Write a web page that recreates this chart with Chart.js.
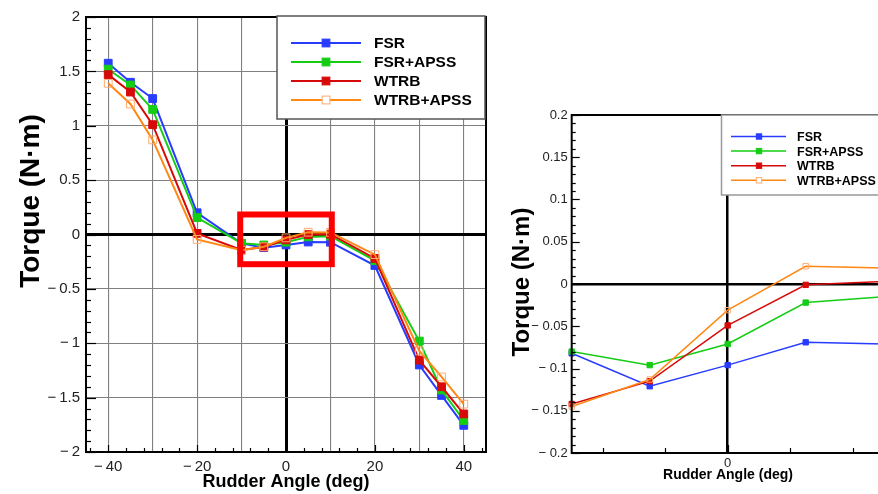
<!DOCTYPE html>
<html>
<head>
<meta charset="utf-8">
<script src="https://cdn.jsdelivr.net/npm/chart.js@4.4.1/dist/chart.umd.min.js"></script>
<style>
html, body { margin: 0; padding: 0; background: #fff; overflow: hidden; width: 878px; height: 494px; }
#left { position: absolute; left: 0; top: 0; }
#right { position: absolute; left: 500px; top: 0; }
</style>
</head>
<body>
<canvas id="left" width="500" height="494"></canvas>
<canvas id="right" width="392" height="494"></canvas>
<script>
// rudder angle (deg) and torque (N·m)
const angles = [-40, -35, -30, -20, -10, -5, 0, 5, 10, 20, 30, 35, 40];
const fsr = [1.575, 1.40, 1.25, 0.20, -0.082, -0.121, -0.096, -0.069, -0.071, -0.285, -1.20, -1.48, -1.755];
const fsrApss = [1.52, 1.375, 1.15, 0.155, -0.080, -0.096, -0.071, -0.022, -0.015, -0.24, -0.98, -1.43, -1.71];
const wtrb = [1.47, 1.31, 1.01, 0.01, -0.142, -0.115, -0.049, -0.001, 0.003, -0.22, -1.155, -1.40, -1.65];
const wtrbApss = [1.39, 1.20, 0.87, -0.045, -0.145, -0.113, -0.031, 0.021, 0.019, -0.185, -1.07, -1.31, -1.56];
const seriesNames = ['FSR', 'FSR+APSS', 'WTRB', 'WTRB+APSS'];

const leftXTicks = [-40, -30, -20, -10, 0, 10, 20, 30, 40];
const leftXLabels = [-40, -20, 0, 20, 40];
const leftYTicks = [-2, -1.5, -1, -0.5, 0, 0.5, 1, 1.5, 2];
const rightXTicks = [0];
const rightYTicks = [-0.2, -0.15, -0.1, -0.05, 0, 0.05, 0.1, 0.15, 0.2];
// region of the left plot that is enlarged on the right: x0, x1, y0, y1
const zoomWindow = [-10.3, 10.3, -0.273, 0.184];

const FONT = '"Liberation Sans", Arial, Helvetica, sans-serif';
const colors = ['rgb(40,60,255)', 'rgb(20,205,20)', 'rgb(215,10,10)', 'rgb(255,135,20)'];
const hollowEdge = 'rgb(255,170,110)';

function fmt(v, gap) {
    if (v === 0) return '0';
    return v < 0 ? '\u2212' + gap + Math.abs(v) : String(v);
}

function makeSets(lineW, r, keep) {
    return [fsr, fsrApss, wtrb, wtrbApss].map((vals, i) => ({
        label: seriesNames[i],
        data: angles.map((x, j) => ({ x: x, y: vals[j] })).filter(p => keep(p.x)),
        borderColor: colors[i],
        backgroundColor: colors[i],
        pointBackgroundColor: i === 3 ? 'rgba(0,0,0,0)' : colors[i],
        pointBorderColor: i === 3 ? hollowEdge : colors[i],
        borderWidth: lineW,
        pointRadius: r,
        pointBorderWidth: 1,
        pointStyle: 'rect',
        order: 3 - i,
        tension: 0
    }));
}

// frame, inward tick marks, legend box, titles, highlight box
const decor = {
    id: 'decor',
    afterDatasetsDraw(chart, args, o) {
        const ctx = chart.ctx, a = chart.chartArea;
        const xs = chart.scales.x, ys = chart.scales.y;
        ctx.save();

        if (o.box) {
            const b = o.box;
            const x0 = xs.getPixelForValue(b[0]), x1 = xs.getPixelForValue(b[1]);
            const y0 = ys.getPixelForValue(b[2]), y1 = ys.getPixelForValue(b[3]);
            ctx.strokeStyle = 'rgb(255,0,0)';
            ctx.lineWidth = 6;
            ctx.strokeRect(x0, y1, x1 - x0, y0 - y1);
        }

        // inward ticks
        ctx.strokeStyle = '#000';
        ctx.lineWidth = 1.2;
        const t = o.ticks;
        const isMajor = (v, m) => Math.abs(v / m - Math.round(v / m)) < 1e-6;
        for (let k = Math.ceil(xs.min / t.xMinor - 1e-9); k * t.xMinor <= xs.max + 1e-9; k++) {
            const v = k * t.xMinor, px = Math.round(xs.getPixelForValue(v)) + 0.5;
            const len = isMajor(v, t.xMajor) ? t.xMajorLen : t.xMinorLen;
            ctx.beginPath(); ctx.moveTo(px, a.bottom); ctx.lineTo(px, a.bottom - len); ctx.stroke();
        }
        for (let k = Math.ceil(ys.min / t.yMinor - 1e-9); k * t.yMinor <= ys.max + 1e-9; k++) {
            const v = k * t.yMinor, py = Math.round(ys.getPixelForValue(v)) + 0.5;
            const len = isMajor(v, t.yMajor) ? t.yMajorLen : t.yMinorLen;
            ctx.beginPath(); ctx.moveTo(a.left, py); ctx.lineTo(a.left + len, py); ctx.stroke();
        }

        // frame
        ctx.lineWidth = 2;
        ctx.strokeRect(a.left, a.top, a.right - a.left, a.bottom - a.top);

        // legend
        const L = o.legend;
        ctx.fillStyle = '#fff';
        ctx.fillRect(L.left, L.top, L.w, L.h);
        ctx.strokeStyle = L.border;
        ctx.lineWidth = 1.5;
        ctx.strokeRect(L.left, L.top, L.w, L.h);
        ctx.font = 'bold ' + L.font + 'px ' + FONT;
        ctx.textBaseline = 'middle';
        ctx.textAlign = 'left';
        chart.data.datasets.forEach((d, i) => {
            const y = L.y0 + i * L.dy;
            ctx.strokeStyle = d.borderColor;
            ctx.lineWidth = d.borderWidth;
            ctx.beginPath(); ctx.moveTo(L.x0, y); ctx.lineTo(L.x1, y); ctx.stroke();
            const s = d.pointRadius * Math.SQRT2;
            ctx.fillStyle = d.pointBackgroundColor === 'rgba(0,0,0,0)' ? '#fff' : d.pointBackgroundColor;
            ctx.fillRect(L.xm - s / 2, y - s / 2, s, s);
            ctx.strokeStyle = d.pointBorderColor;
            ctx.lineWidth = 1;
            ctx.strokeRect(L.xm - s / 2, y - s / 2, s, s);
            ctx.fillStyle = '#000';
            ctx.fillText(d.label, L.tx, y + 1);
        });

        // axis titles
        o.titles.forEach(tt => {
            ctx.save();
            ctx.translate(tt.x, tt.y);
            ctx.rotate(tt.rot);
            ctx.font = 'bold ' + tt.size + 'px ' + FONT;
            ctx.fillStyle = '#000';
            ctx.textAlign = 'center';
            ctx.textBaseline = 'middle';
            ctx.fillText(tt.text, 0, 0);
            ctx.restore();
        });
        ctx.restore();
    }
};

Chart.defaults.font.family = FONT;

new Chart(document.getElementById('left'), {
    type: 'line',
    data: { datasets: makeSets(2, 5.5, () => true) },
    options: {
        responsive: false,
        animation: false,
        layout: { padding: { top: 17, right: 14, left: 0, bottom: 0 } },
        scales: {
            x: {
                type: 'linear', min: -45, max: 45,
                afterBuildTicks: s => { s.ticks = leftXTicks.map(v => ({ value: v })); },
                afterFit: s => { s.height = 42; },
                border: { display: false },
                grid: {
                    drawTicks: false,
                    color: c => c.tick.value === 0 ? '#000' : '#808080',
                    lineWidth: c => c.tick.value === 0 ? 3 : 1.1
                },
                ticks: {
                    autoSkip: false, maxRotation: 0, padding: 6, color: '#222',
                    font: { size: 15 },
                    callback: v => leftXLabels.includes(v) ? fmt(v, '\u2009') : ''
                }
            },
            y: {
                type: 'linear', min: -2, max: 2,
                afterBuildTicks: s => { s.ticks = leftYTicks.map(v => ({ value: v })); },
                afterFit: s => { s.width = 86; },
                border: { display: false },
                grid: {
                    drawTicks: false,
                    color: c => c.tick.value === 0 ? '#000' : '#808080',
                    lineWidth: c => c.tick.value === 0 ? 3 : 1.1
                },
                ticks: {
                    autoSkip: false, padding: 6, color: '#222',
                    font: { size: 15 },
                    callback: v => fmt(v, '\u2009')
                }
            }
        },
        plugins: {
            legend: { display: false },
            tooltip: { enabled: false },
            decor: {
                box: zoomWindow,
                ticks: { xMinor: 4, xMajor: 20, xMinorLen: 4, xMajorLen: 7, yMinor: 0.1, yMajor: 0.5, yMinorLen: 5, yMajorLen: 10 },
                legend: { left: 277, top: 16, w: 208, h: 103, border: '#555', font: 15.5, y0: 43, dy: 19, x0: 291, x1: 361, xm: 326, tx: 374 },
                titles: [
                    { text: 'Torque (N\u00b7m)', x: 31, y: 201, rot: -Math.PI / 2, size: 28 },
                    { text: 'Rudder Angle (deg)', x: 286, y: 482, rot: 0, size: 18 }
                ]
            }
        }
    },
    plugins: [decor]
});

new Chart(document.getElementById('right'), {
    type: 'line',
    data: { datasets: makeSets(1.5, 3.8, x => x >= zoomWindow[0] && x <= zoomWindow[1]).map(d => Object.assign(d, { clip: false })) },
    options: {
        responsive: false,
        animation: false,
        layout: { padding: { top: 115, right: 8.3, left: 0, bottom: 0 } },
        scales: {
            x: {
                type: 'linear', min: -10, max: 10,
                afterBuildTicks: s => { s.ticks = rightXTicks.map(v => ({ value: v })); },
                afterFit: s => { s.height = 41; },
                border: { display: false },
                grid: { drawTicks: false, color: '#000', lineWidth: 2.5 },
                ticks: { autoSkip: false, maxRotation: 0, padding: 3, color: '#222', font: { size: 13 }, callback: v => fmt(v, ' ') }
            },
            y: {
                type: 'linear', min: -0.2, max: 0.2,
                afterBuildTicks: s => { s.ticks = rightYTicks.map(v => ({ value: v })); },
                afterFit: s => { s.width = 71.7; },
                border: { display: false },
                grid: {
                    drawTicks: false,
                    color: c => c.tick.value === 0 ? '#000' : 'rgba(0,0,0,0)',
                    lineWidth: 2.5
                },
                ticks: { autoSkip: false, padding: 4, color: '#222', font: { size: 13 }, callback: v => fmt(v, ' ') }
            }
        },
        plugins: {
            legend: { display: false },
            tooltip: { enabled: false },
            decor: {
                ticks: { xMinor: 4, xMajor: 20, xMinorLen: 5, xMajorLen: 8, yMinor: 0.01, yMajor: 0.05, yMinorLen: 4, yMajorLen: 8 },
                legend: { left: 221.5, top: 115, w: 200, h: 80, border: '#999', font: 12.5, y0: 136.5, dy: 14.6, x0: 231, x1: 286, xm: 259, tx: 297 },
                titles: [
                    { text: 'Torque (N\u00b7m)', x: 22.5, y: 282, rot: -Math.PI / 2, size: 24 },
                    { text: 'Rudder Angle (deg)', x: 228, y: 475, rot: 0, size: 14 }
                ]
            }
        }
    },
    plugins: [decor]
});
</script>
</body>
</html>
